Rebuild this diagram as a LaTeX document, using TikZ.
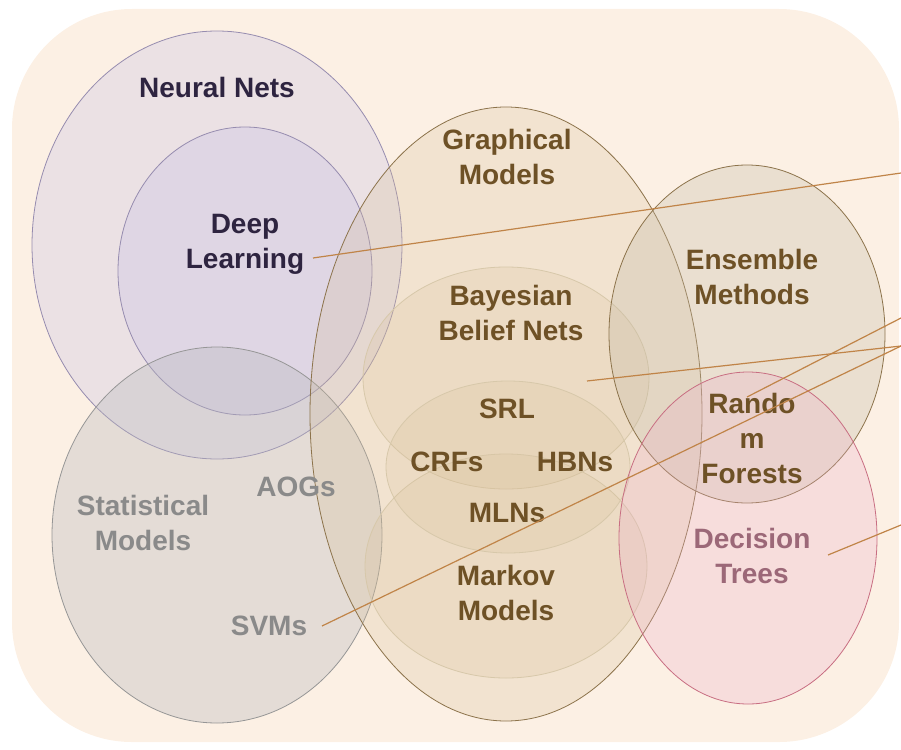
\documentclass[tikz,border=0pt]{standalone}
\usepackage{fontspec}
\setmainfont{Liberation Sans}
\usepackage{color}
\definecolor{peach}{RGB}{252,240,228}
\definecolor{nnline}{RGB}{150,140,175}
\definecolor{nnfill}{RGB}{188,184,228}
\definecolor{nntext}{RGB}{46,36,64}
\definecolor{stline}{RGB}{150,150,150}
\definecolor{stfill}{RGB}{185,185,190}
\definecolor{sttext}{RGB}{138,138,138}
\definecolor{gmline}{RGB}{140,115,75}
\definecolor{gmfill}{RGB}{215,190,150}
\definecolor{subline}{RGB}{215,200,170}
\definecolor{emfill}{RGB}{195,185,165}
\definecolor{gmtext}{RGB}{110,81,38}
\definecolor{dtline}{RGB}{200,110,130}
\definecolor{dtfill}{RGB}{235,175,200}
\definecolor{dttext}{RGB}{156,104,120}
\definecolor{leadcol}{RGB}{192,132,72}

\begin{document}
\begin{tikzpicture}[x=1pt, y=-1pt, font=\fontsize{28}{35}\selectfont\bfseries,
	nnset/.style={draw=nnline, fill=nnfill, fill opacity=0.25, line width=0.8pt},
	stset/.style={draw=stline, fill=stfill, fill opacity=0.35, line width=0.8pt},
	gmset/.style={draw=gmline, fill=gmfill, fill opacity=0.25, line width=0.8pt},
	subset/.style={draw=subline, fill=gmfill, fill opacity=0.2, line width=0.8pt},
	emset/.style={draw=gmline, fill=emfill, fill opacity=0.3, line width=0.8pt},
	dtset/.style={draw=dtline, fill=dtfill, fill opacity=0.28, line width=0.8pt},
	nnlbl/.style={text=nntext, align=center},
	stlbl/.style={text=sttext, align=center},
	gmlbl/.style={text=gmtext, align=center},
	dtlbl/.style={text=dttext, align=center},
	lead/.style={draw=leadcol, line width=1.2pt}]
		% backdrop
		\useasboundingbox (0,0) rectangle (901,749);
		\fill[peach, rounded corners=120pt] (12,9) rectangle (899,742);
		% neural nets and deep learning
		\draw[nnset] (217,245) ellipse [x radius=185, y radius=214];
		\draw[nnset] (245,271) ellipse [x radius=127, y radius=144];
		% statistical models
		\draw[stset] (217,535) ellipse [x radius=165, y radius=188];
		% graphical models with the sets inside it
		\draw[gmset] (506,414) ellipse [x radius=196, y radius=307];
		\draw[subset] (506,378) ellipse [x radius=143, y radius=111];
		\draw[subset] (506,566) ellipse [x radius=141, y radius=112];
		\draw[subset] (508,467) ellipse [x radius=122, y radius=86];
		% ensemble methods and decision trees
		\draw[emset] (747,334) ellipse [x radius=138, y radius=169];
		\draw[dtset] (748,538) ellipse [x radius=129, y radius=166];
		% labels
		\node[nnlbl] (nn) at (217,87) {Neural Nets};
		\node[nnlbl] (dl) at (245,244) {Deep\\Learning};
		\node[gmlbl] (gm) at (507,157) {Graphical\\Models};
		\node[gmlbl] (bbn) at (511,313) {Bayesian\\Belief Nets};
		\node[gmlbl] (srl) at (507,409) {SRL};
		\node[gmlbl] (crf) at (447,462) {CRFs};
		\node[gmlbl] (hbn) at (575,462) {HBNs};
		\node[gmlbl] (mln) at (507,513) {MLNs};
		\node[gmlbl] (mm) at (506,593) {Markov\\Models};
		\node[gmlbl] (em) at (752,277) {Ensemble\\Methods};
		\node[gmlbl] (rf) at (752,438) {Rando\\m\\Forests};
		\node[dtlbl] (dt) at (752,556) {Decision\\Trees};
		\node[stlbl] (sm) at (143,523) {Statistical\\Models};
		\node[stlbl] (aog) at (296,487) {AOGs};
		\node[stlbl] (svm) at (269,626) {SVMs};
		% leader lines running off the right edge
		\coordinate (r1) at (901,173);
		\coordinate (r2) at (901,318);
		\coordinate (r3) at (901,346);
		\coordinate (r4) at (901,525);
		\draw[lead] ([shift={(68,14)}]dl.center) -- (r1);
		\draw[lead] ([shift={(-5,-41)}]rf.center) -- (r2);
		\draw[lead] ([shift={(76,68)}]bbn.center) -- (r3);
		\draw[lead] ([shift={(53,0)}]svm.center) -- (r3);
		\draw[lead] ([shift={(76,-1)}]dt.center) -- (r4);
	\end{tikzpicture}
\end{document}
